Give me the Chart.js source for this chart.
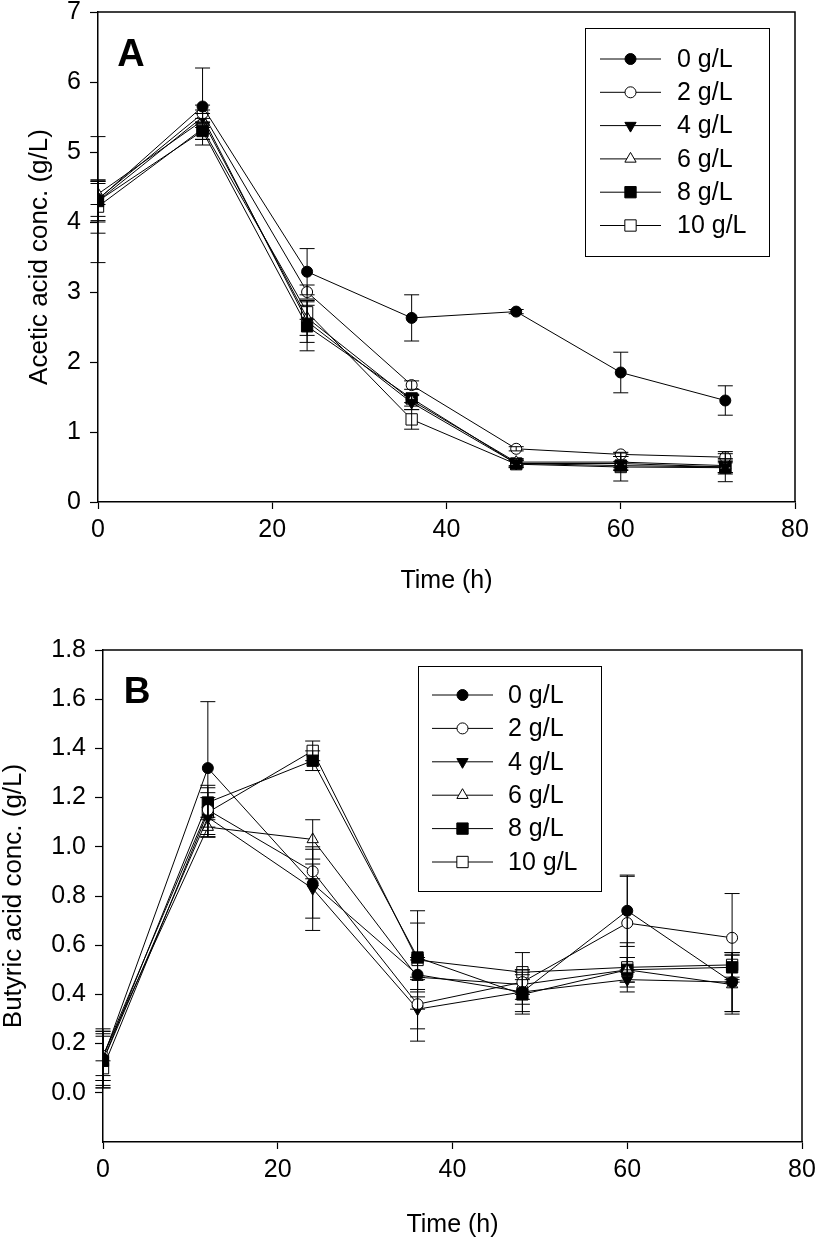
<!DOCTYPE html>
<html><head><meta charset="utf-8">
<script src="https://cdn.jsdelivr.net/npm/chart.js@4.4.1/dist/chart.umd.min.js"></script>
<style>
html,body{margin:0;padding:0;background:#fff;}
#wrap{position:relative;width:816px;height:1240px;overflow:hidden;background:#fff;}
.c{position:absolute;left:0;width:816px;height:620px;}
</style></head><body>
<div id="wrap">
<div class="c" style="top:0"><canvas id="cA" width="816" height="620"></canvas></div>
<div class="c" style="top:620px"><canvas id="cB" width="816" height="620"></canvas></div>
</div>
<script>
// ---------- data ----------
const timesH = [0, 12, 24, 36, 48, 60, 72];
const seriesLabels = ['0 g/L', '2 g/L', '4 g/L', '6 g/L', '8 g/L', '10 g/L'];
const xTicks = [0, 20, 40, 60, 80];

// Panel A: acetic acid (g/L)
const acetic0  = [4.32, 5.65, 3.29, 2.63, 2.72, 1.85, 1.45];
const acetic2  = [4.33, 5.55, 3.00, 1.67, 0.76, 0.68, 0.64];
const acetic4  = [4.30, 5.50, 2.58, 1.42, 0.55, 0.55, 0.50];
const acetic6  = [4.40, 5.45, 2.63, 1.45, 0.57, 0.57, 0.52];
const acetic8  = [4.30, 5.30, 2.51, 1.48, 0.55, 0.52, 0.50];
const acetic10 = [4.22, 5.33, 2.71, 1.18, 0.54, 0.50, 0.49];
const aceticErr0  = [0.90, 0.55, 0.33, 0.33, 0.03, 0.29, 0.21];
const aceticErr2  = [0.25, 0.12, 0.10, 0.06, 0.03, 0.03, 0.08];
const aceticErr4  = [0.30, 0.10, 0.30, 0.10, 0.05, 0.10, 0.10];
const aceticErr6  = [0.15, 0.10, 0.25, 0.08, 0.05, 0.08, 0.10];
const aceticErr8  = [0.28, 0.12, 0.35, 0.06, 0.05, 0.06, 0.08];
const aceticErr10 = [0.38, 0.15, 0.10, 0.14, 0.05, 0.20, 0.20];
const aceticTicks = [0, 1, 2, 3, 4, 5, 6, 7];

// Panel B: butyric acid (g/L)
const butyric0  = [0.14, 1.32, 0.85, 0.48, 0.41, 0.74, 0.45];
const butyric2  = [0.15, 1.15, 0.90, 0.36, 0.45, 0.69, 0.63];
const butyric4  = [0.13, 1.12, 0.83, 0.34, 0.41, 0.46, 0.45];
const butyric6  = [0.15, 1.08, 1.03, 0.47, 0.44, 0.50, 0.44];
const butyric8  = [0.13, 1.18, 1.35, 0.55, 0.40, 0.50, 0.51];
const butyric10 = [0.10, 1.14, 1.39, 0.54, 0.49, 0.51, 0.52];
const butyricErr0  = [0.12, 0.27, 0.14, 0.06, 0.05, 0.145, 0.12];
const butyricErr2  = [0.10, 0.07, 0.03, 0.10, 0.05, 0.19, 0.18];
const butyricErr4  = [0.10, 0.08, 0.17, 0.13, 0.08, 0.03, 0.12];
const butyricErr6  = [0.10, 0.04, 0.08, 0.08, 0.06, 0.05, 0.12];
const butyricErr8  = [0.11, 0.07, 0.04, 0.14, 0.08, 0.05, 0.05];
const butyricErr10 = [0.03, 0.10, 0.04, 0.20, 0.08, 0.10, 0.05];
const butyricTicks = [-0.2, 0.0, 0.2, 0.4, 0.6, 0.8, 1.0, 1.2, 1.4, 1.6, 1.8];

// ---------- styles ----------
const FONT = "'Liberation Sans', Arial, Helvetica, sans-serif";
const markerStyles = [
  {style: 'circle',   fill: '#000', rot: 0,   r: 5.5},
  {style: 'circle',   fill: '#fff', rot: 0,   r: 5.5},
  {style: 'triangle', fill: '#000', rot: 180, r: 6.5},
  {style: 'triangle', fill: '#fff', rot: 0,   r: 6.5},
  {style: 'rect',     fill: '#000', rot: 0,   r: 8},
  {style: 'rect',     fill: '#fff', rot: 0,   r: 8}
];

function drawMarker(ctx, m, x, y) {
  ctx.save();
  ctx.fillStyle = m.fill; ctx.strokeStyle = '#000'; ctx.lineWidth = 1;
  if (Chart.helpers && Chart.helpers.drawPoint) {
    Chart.helpers.drawPoint(ctx, {pointStyle: m.style, rotation: m.rot, radius: m.r, borderWidth: 1}, x, y);
  } else {
    ctx.beginPath();
    if (m.style === 'circle') ctx.arc(x, y, m.r, 0, Math.PI * 2);
    else if (m.style === 'rect') { const s = m.r * Math.SQRT1_2; ctx.rect(x - s, y - s, 2 * s, 2 * s); }
    else {
      const d = m.rot ? -1 : 1; const r = m.r;
      ctx.moveTo(x, y - d * r); ctx.lineTo(x + r * 0.866, y + d * r * 0.5); ctx.lineTo(x - r * 0.866, y + d * r * 0.5); ctx.closePath();
    }
    ctx.fill(); ctx.stroke();
  }
  ctx.restore();
}

const errorBarPlugin = {
  id: 'errorBars',
  afterDatasetsDraw(chart) {
    const ctx = chart.ctx, xs = chart.scales.x, ys = chart.scales.y;
    ctx.save(); ctx.strokeStyle = '#000'; ctx.lineWidth = 1;
    chart.data.datasets.forEach(ds => {
      ds.data.forEach((p, i) => {
        const e = ds.errors[i]; if (!e) return;
        const x = xs.getPixelForValue(p.x);
        const yt = ys.getPixelForValue(p.y + e), yb = ys.getPixelForValue(p.y - e);
        ctx.beginPath();
        ctx.moveTo(x, yt); ctx.lineTo(x, yb);
        ctx.moveTo(x - 7.5, yt); ctx.lineTo(x + 7.5, yt);
        ctx.moveTo(x - 7.5, yb); ctx.lineTo(x + 7.5, yb);
        ctx.stroke();
      });
    });
    ctx.restore();
  }
};

const framePlugin = {
  id: 'frame',
  afterDraw(chart, args, o) {
    const {ctx, chartArea: a} = chart;
    ctx.save(); ctx.strokeStyle = '#000'; ctx.lineWidth = 1.5;
    ctx.beginPath(); ctx.moveTo(a.left, a.top); ctx.lineTo(a.right, a.top); ctx.lineTo(a.right, a.bottom); ctx.stroke();
    // panel letter
    ctx.fillStyle = '#000'; ctx.font = 'bold ' + o.letterSize + 'px ' + FONT;
    ctx.textAlign = 'center'; ctx.textBaseline = 'middle';
    ctx.fillText(o.letter, a.left + o.letterDx, a.top + o.letterDy);
    // legend
    const L = o.legend;
    const bx = a.left + L.dx, by = a.top + L.dy;
    ctx.fillStyle = '#fff'; ctx.fillRect(bx, by, L.w, L.h);
    ctx.lineWidth = 1; ctx.strokeStyle = '#000'; ctx.strokeRect(bx + 0.5, by + 0.5, L.w, L.h);
    ctx.font = L.font + 'px ' + FONT; ctx.textAlign = 'left'; ctx.textBaseline = 'middle';
    chart.data.datasets.forEach((ds, i) => {
      const y = by + L.row0 + i * L.rowH;
      ctx.beginPath(); ctx.strokeStyle = '#000'; ctx.lineWidth = 1;
      ctx.moveTo(bx + L.line1, y); ctx.lineTo(bx + L.line2, y); ctx.stroke();
      drawMarker(ctx, markerStyles[i], bx + (L.line1 + L.line2) / 2, y);
      ctx.fillStyle = '#000';
      ctx.fillText(ds.label, bx + L.text, y + 1);
    });
    ctx.restore();
  }
};

function makePanel(id, values, errors, yTicks, yMin, yMax, cfg) {
  const datasets = values.map((vals, i) => ({
    label: seriesLabels[i],
    data: timesH.map((t, k) => ({x: t, y: vals[k]})),
    errors: errors[i],
    borderColor: '#000', borderWidth: 1, showLine: true, tension: 0,
    pointStyle: markerStyles[i].style, pointRotation: markerStyles[i].rot,
    pointRadius: markerStyles[i].r, pointHoverRadius: markerStyles[i].r,
    pointBackgroundColor: markerStyles[i].fill, pointBorderColor: '#000', pointBorderWidth: 1,
    fill: false
  }));
  return new Chart(document.getElementById(id), {
    type: 'line',
    data: {datasets},
    plugins: [errorBarPlugin, framePlugin],
    options: {
      responsive: false, animation: false, devicePixelRatio: 1,
      layout: {padding: {top: cfg.padTop, right: cfg.padRight, left: 0, bottom: 0}},
      plugins: {legend: {display: false}, tooltip: {enabled: false},
        frame: {letter: cfg.letter, letterSize: cfg.letterSize, letterDx: cfg.letterDx, letterDy: cfg.letterDy, legend: cfg.legend}},
      scales: {
        x: {
          type: 'linear', min: 0, max: 80,
          afterBuildTicks(s) { s.ticks = xTicks.map(v => ({value: v})); },
          afterFit(s) { s.height = cfg.xHeight; s.paddingLeft = 0; s.paddingRight = 0; },
          grid: {drawOnChartArea: false, drawTicks: true, tickLength: 7, tickWidth: 1.2, color: '#000'},
          border: {display: true, color: '#000', width: 1.5},
          ticks: {color: '#000', font: {family: FONT, size: 25}, padding: 6, maxRotation: 0},
          title: {display: true, text: 'Time (h)', color: '#000', font: {family: FONT, size: 25, lineHeight: 1}, padding: {top: 0, bottom: cfg.xTitlePad}}
        },
        y: {
          type: 'linear', min: yMin, max: yMax,
          afterBuildTicks(s) { s.ticks = yTicks.map(v => ({value: v})); },
          afterFit(s) { s.width = cfg.yWidth; s.paddingTop = 0; s.paddingBottom = 0; },
          grid: {drawOnChartArea: false, drawTicks: true, tickLength: 8, tickWidth: 1.2,
                 color: c => (c.tick && c.tick.value < yMin + 1e-6 && yMin < 0) ? 'rgba(0,0,0,0)' : '#000'},
          border: {display: true, color: '#000', width: 1.5},
          ticks: {color: '#000', font: {family: FONT, size: 25}, padding: 9,
                  callback: v => (v < -1e-6 ? '' : cfg.fmt(v))},
          title: {display: true, text: cfg.yTitle, color: '#000', font: {family: FONT, size: 26, lineHeight: 1}, padding: {top: cfg.yTitlePad, bottom: 0}}
        }
      }
    }
  });
}

makePanel('cA',
  [acetic0, acetic2, acetic4, acetic6, acetic8, acetic10],
  [aceticErr0, aceticErr2, aceticErr4, aceticErr6, aceticErr8, aceticErr10],
  aceticTicks, 0, 7,
  {padTop: 12, padRight: 21, yWidth: 98, xHeight: 118, xTitlePad: 26, yTitlePad: 27,
   yTitle: 'Acetic acid conc. (g/L)', fmt: v => String(Math.round(v)),
   letter: 'A', letterSize: 38, letterDx: 33, letterDy: 44,
   legend: {dx: 487, dy: 16, w: 184, h: 228, row0: 31, rowH: 33.3, line1: 15, line2: 76, text: 92, font: 25}});

makePanel('cB',
  [butyric0, butyric2, butyric4, butyric6, butyric8, butyric10],
  [butyricErr0, butyricErr2, butyricErr4, butyricErr6, butyricErr8, butyricErr10],
  butyricTicks, -0.2, 1.8,
  {padTop: 30, padRight: 14, yWidth: 103, xHeight: 98, xTitlePad: 2, yTitlePad: 1,
   yTitle: 'Butyric acid conc. (g/L)', fmt: v => v.toFixed(1),
   letter: 'B', letterSize: 37, letterDx: 34, letterDy: 43,
   legend: {dx: 315, dy: 16, w: 183, h: 225, row0: 29, rowH: 33.4, line1: 14, line2: 75, text: 90, font: 25}});
</script>
</body></html>
